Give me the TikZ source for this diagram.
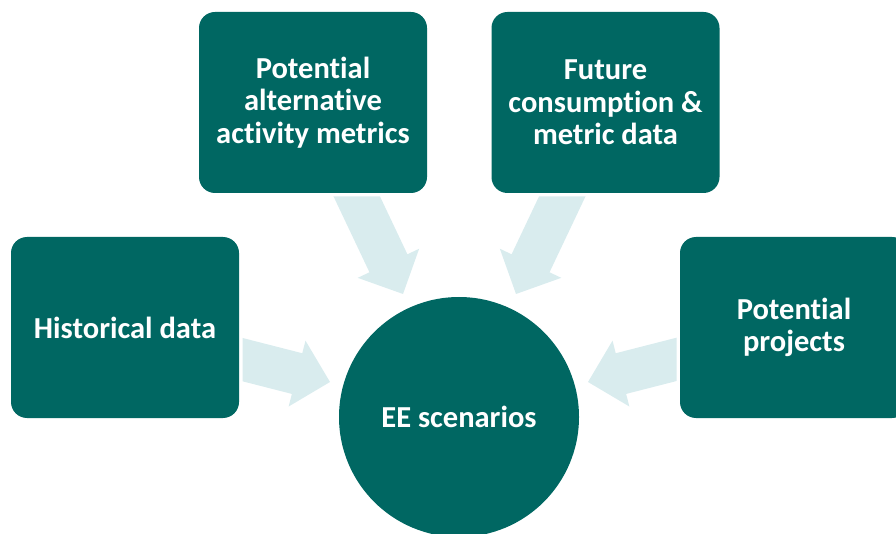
\documentclass[tikz,border=0pt]{standalone}
\usepackage{fontspec}
\setmainfont{Carlito}[Ligatures=NoCommon]
\usetikzlibrary{calc}
\definecolor{tealbox}{RGB}{0,103,98}
\definecolor{arrowfill}{RGB}{217,236,238}
\tikzset{
  box/.style={rectangle, rounded corners=16pt, fill=tealbox, minimum width=228pt,
    minimum height=181pt, inner sep=0pt, text=white, align=center,
    font=\fontsize{30.5}{32.5}\selectfont\bfseries,
    preaction={draw=white, line width=7pt}},
  hub/.style={circle, fill=tealbox, minimum size=240pt, inner sep=0pt, text=white,
    font=\fontsize{30.5}{32.5}\selectfont\bfseries},
  blockarrow/.style={fill=arrowfill}
}
\newcommand\blockarr[2]{%
  \path ($(#2)!34pt!(#1)$) coordinate (hb);
  \fill[blockarrow] ($(#1)!21pt!90:(#2)$) -- ($(hb)!21pt!-90:(#1)$)
    -- ($(hb)!34pt!-90:(#1)$) -- (#2) -- ($(hb)!34pt!90:(#1)$)
    -- ($(hb)!21pt!90:(#1)$) -- ($(#1)!21pt!-90:(#2)$) -- cycle;
}
\begin{document}
\begin{tikzpicture}[x=1pt,y=-1pt]
\useasboundingbox (0,0) rectangle (896,534);
% arrow end points
\coordinate (lt) at (215.6,352.75);
\coordinate (lp) at (330,382);
\coordinate (rt) at (702.4,352.75);
\coordinate (rp) at (588,382);
\coordinate (tlt) at (348.4,178.8);
\coordinate (tlp) at (403,294);
\coordinate (trt) at (570.6,178.8);
\coordinate (trp) at (516,294);
\blockarr{lt}{lp}
\blockarr{rt}{rp}
\blockarr{tlt}{tlp}
\blockarr{trt}{trp}
% boxes
\node[box] (hist) at (125,327.5) {Historical data};
\node[box] (pam) at (313,102.5) {Potential\\alternative\\activity metrics};
\node[box] (fut) at (605.5,102.5) {Future\\consumption \&\\metric data};
\node[box] (proj) at (794,327.5) {Potential\\projects};
\node[hub] (ee) at (459,417) {EE scenarios};
\end{tikzpicture}
\end{document}
